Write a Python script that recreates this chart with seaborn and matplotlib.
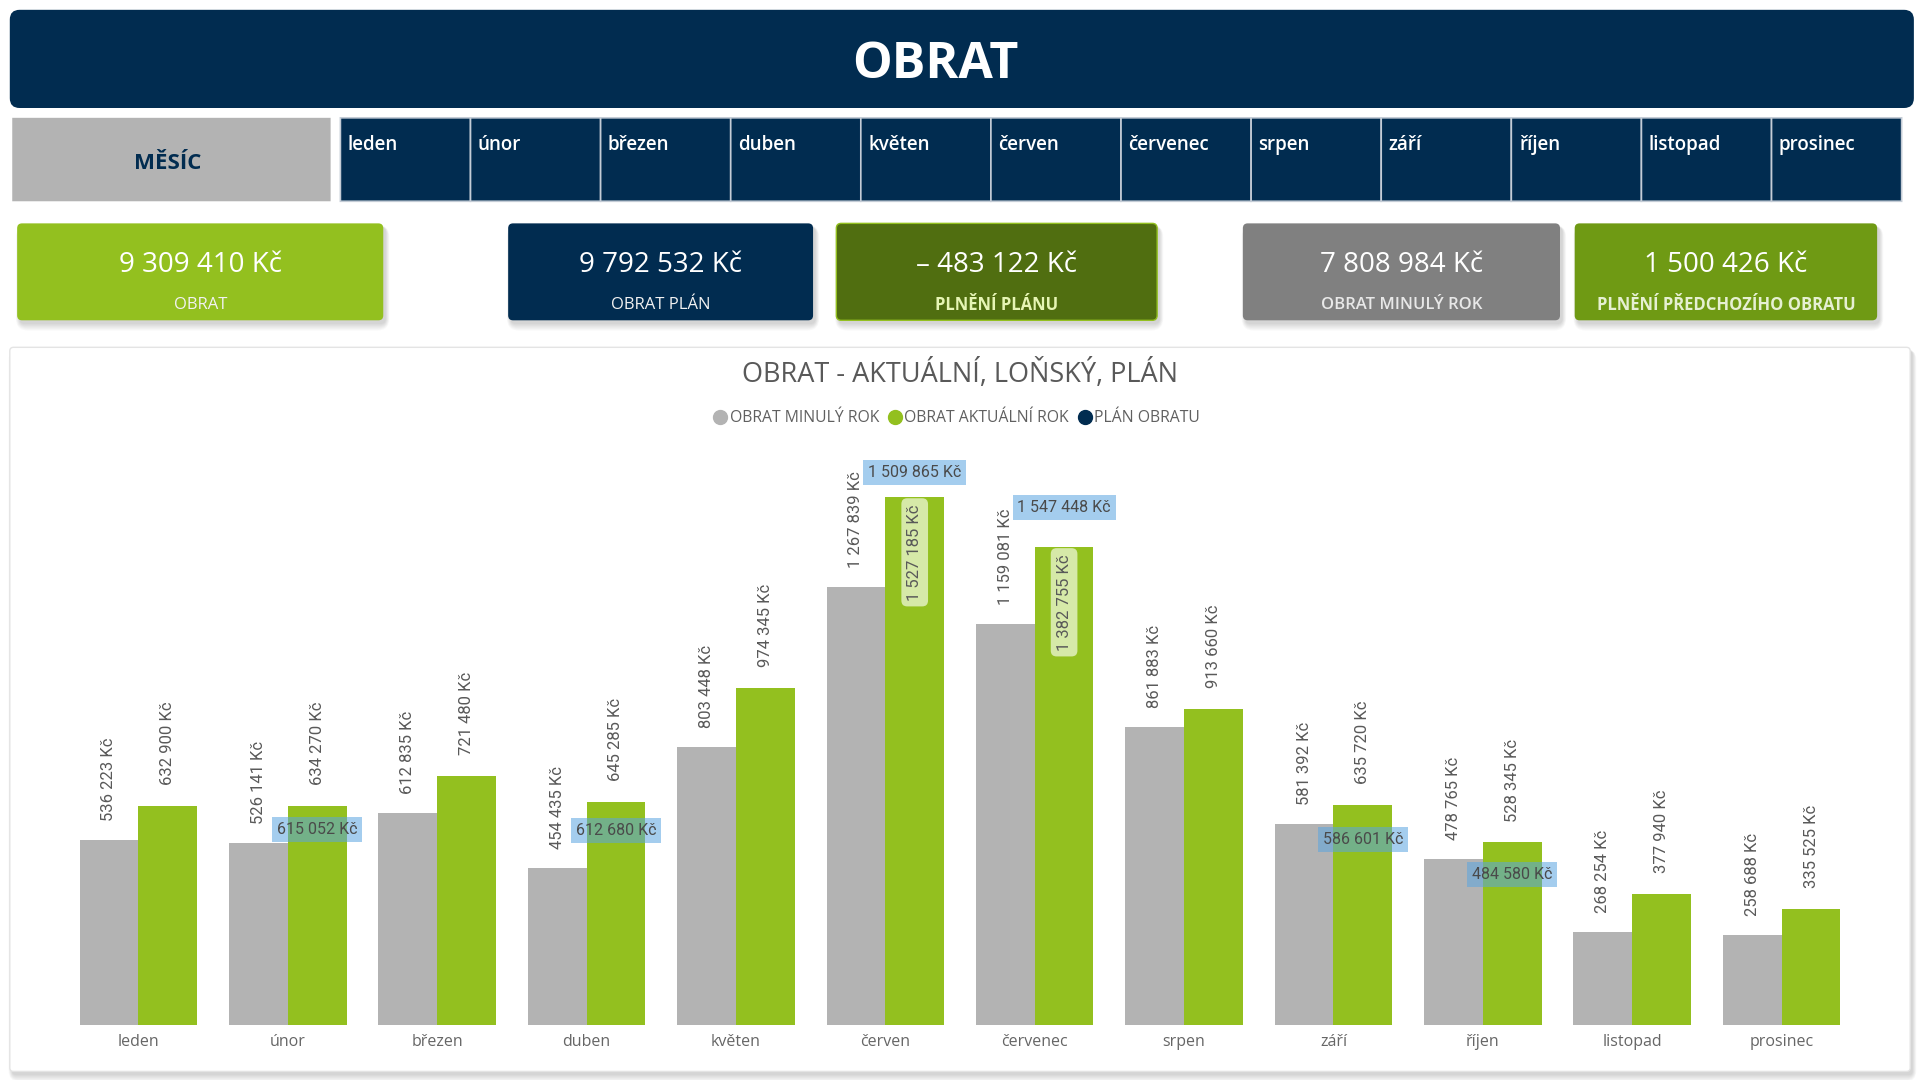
import numpy as np
import pandas as pd
import seaborn as sns
import matplotlib.pyplot as plt
from matplotlib.patches import FancyBboxPatch
from matplotlib.lines import Line2D

# data
months = ["leden", "únor", "březen", "duben", "květen", "červen",
          "červenec", "srpen", "září", "říjen", "listopad", "prosinec"]
last_year = [536223, 526141, 612835, 454435, 803448, 1267839,
             1159081, 861883, 581392, 478765, 268254, 258688]
this_year = [632900, 634270, 721480, 645285, 974345, 1527185,
             1382755, 913660, 635720, 528345, 377940, 335525]
# only the plan labels that are visible in the picture
plan = [np.nan, 615052, np.nan, 612680, np.nan, 1509865,
        1547448, np.nan, 586601, 484580, np.nan, np.nan]
plan_total = 9792532

series_names = ["OBRAT MINULÝ ROK", "OBRAT AKTUÁLNÍ ROK", "PLÁN OBRATU"]

NAVY = "#012c50"
GREY = "#b3b3b3"
GREEN = "#93c01f"


def kc(v):
    s = f"{abs(v):,.0f}".replace(",", " ") + " Kč"
    return ("– " + s) if v < 0 else s


total = sum(this_year)
total_last = sum(last_year)
kpi_values = [kc(total), kc(plan_total), kc(total - plan_total),
              kc(total_last), kc(total - total_last)]
kpi_labels = ["OBRAT", "OBRAT PLÁN", "PLNĚNÍ PLÁNU", "OBRAT MINULÝ ROK",
              "PLNĚNÍ PŘEDCHOZÍHO OBRATU"]

df = pd.DataFrame({
    "month": months * 2,
    "value": last_year + this_year,
    "series": [series_names[0]] * 12 + [series_names[1]] * 12,
})

sns.set_theme(style="white")
plt.rcParams["font.family"] = ["Open Sans", "DejaVu Sans"]
NUMFONT = ["Roboto", "DejaVu Sans"]

fig = plt.figure(figsize=(19.2, 10.8), dpi=100)
fig.patch.set_facecolor("white")

# background layer in reference pixel units (1568 x 880)
bg = fig.add_axes([0, 0, 1, 1], zorder=0)
bg.set_xlim(0, 1568)
bg.set_ylim(880, 0)
bg.axis("off")


def box(x0, y0, x1, y1, fc, r=5, ec="none", lw=0, shadow=False, z=1):
    if shadow:
        for i in range(7):
            bg.add_patch(FancyBboxPatch(
                (x0 + 2 - i * 0.5, y0 + 3 - i * 0.3), x1 - x0 + i, y1 - y0 + i * 1.2,
                boxstyle=f"round,pad=0,rounding_size={r + i}",
                fc="black", ec="none", alpha=0.025, zorder=z - 0.5))
    bg.add_patch(FancyBboxPatch(
        (x0, y0), x1 - x0, y1 - y0, boxstyle=f"round,pad=0,rounding_size={r}",
        fc=fc, ec=ec, lw=lw, zorder=z))


# header banner
box(8, 8, 1563, 88, NAVY, r=8)
bg.text(764, 48, "OBRAT", color="white", fontsize=36, fontweight="bold",
        ha="center", va="center_baseline")

# month slicer
box(10, 96, 270, 164, GREY, r=0)
bg.text(137, 131, "MĚSÍC", color=NAVY, fontsize=16, fontweight="bold",
        ha="center", va="center_baseline")
cell_w = (1553 - 278) / 12
for i, m in enumerate(months):
    x0 = 278 + i * cell_w
    box(x0, 96, x0 + cell_w, 164, NAVY, r=0, ec="#c4ccd6", lw=1.2)
    bg.text(x0 + 6, 116, m, color="white", fontsize=13.5, fontweight="semibold",
            ha="left", va="center_baseline")

# KPI cards
cards = [(14, 313, GREEN, "#f2f2f2", "normal", "none"),
         (415, 664, NAVY, "#f2f2f2", "normal", "none"),
         (683, 945, "#506e10", "#e6f5b4", "bold", GREEN),
         (1015, 1274, "#808080", "#e8e8e8", "semibold", "none"),
         (1286, 1533, "#6f9a14", "#e6f0d2", "bold", "none")]
for (x0, x1, fc, lc, lw_, ec), val, lab in zip(cards, kpi_values, kpi_labels):
    box(x0, 182, x1, 261, fc, r=4, ec=ec, lw=1 if ec != "none" else 0, shadow=True, z=2)
    bg.text((x0 + x1) / 2, 213, val, color="white", fontsize=20, fontweight="medium",
            ha="center", va="center_baseline", zorder=3)
    bg.text((x0 + x1) / 2, 247, lab, color=lc, fontsize=12, fontweight=lw_,
            ha="center", va="center_baseline", zorder=3)

# chart panel
box(8, 283, 1560, 873, "white", r=3, ec="#e4e4e4", lw=1, shadow=True, z=2)
bg.text(784, 302, "OBRAT - AKTUÁLNÍ, LOŇSKÝ, PLÁN", color="#595959",
        fontsize=19.5, ha="center", va="center_baseline", zorder=3)

# bar chart
ax = fig.add_axes([52 / 1568, 1 - 835 / 880, 1464 / 1568, 475 / 880], zorder=2)
ax.patch.set_alpha(0)
sns.barplot(data=df, x="month", y="value", hue="series",
            palette=[GREY, GREEN], width=0.787, saturation=1,
            linewidth=0, ax=ax, legend=False)
ax.set_xlim(-0.5, 11.5)
ax.set_ylim(0, 1.6874e6)
ax.set_xlabel("")
ax.set_ylabel("")
ax.set_yticks([])
ax.tick_params(axis="x", length=0, pad=7, labelsize=11.5, labelcolor="#666666")
sns.despine(ax=ax, left=True, bottom=True)

grey_bars, green_bars = ax.containers[0], ax.containers[1]
lab_kw = dict(rotation=90, ha="center", fontsize=12, color="#595959",
              family=NUMFONT, clip_on=False, zorder=4)

for bar, v in zip(grey_bars, last_year):
    cx = bar.get_x() + bar.get_width() / 2
    ax.text(cx, v + 0.055e6, kc(v), va="bottom", **lab_kw)

inside = []
for bar, v in zip(green_bars, this_year):
    cx = bar.get_x() + bar.get_width() / 2
    if v > 1.2e6:
        inside.append(True)
        ax.text(cx, v - 0.02e6, kc(v), va="top",
                bbox=dict(boxstyle="round,pad=0.35", fc="#d6e9a8", ec="none"),
                **lab_kw)
    else:
        inside.append(False)
        ax.text(cx, v + 0.06e6, kc(v), va="bottom", **lab_kw)

for bar, p, v, ins in zip(green_bars, plan, this_year, inside):
    if np.isnan(p):
        continue
    cx = bar.get_x() + bar.get_width() / 2
    if ins and p < v:
        y, va = v + 0.05e6, "bottom"
    else:
        y, va = p - 0.05e6, "center"
    ax.text(cx, y, kc(p), ha="center", va=va, fontsize=11.5, color="#4a4a4a",
            family=NUMFONT, zorder=5, clip_on=False,
            bbox=dict(boxstyle="square,pad=0.3", fc="#5aa5e0", ec="none", alpha=0.55))

# legend
handles = [Line2D([], [], ls="none", marker="o", markersize=10,
                  markerfacecolor=c, markeredgecolor=c)
           for c in (GREY, GREEN, NAVY)]
fig.legend(handles, series_names, loc="center", ncol=3, frameon=False,
           bbox_to_anchor=(781 / 1568, 1 - 341 / 880), handletextpad=0.1,
           columnspacing=0.5, handlelength=1.0, fontsize=11.3, labelcolor="#606060")

fig.savefig("out.png", dpi=100)
plt.close(fig)
